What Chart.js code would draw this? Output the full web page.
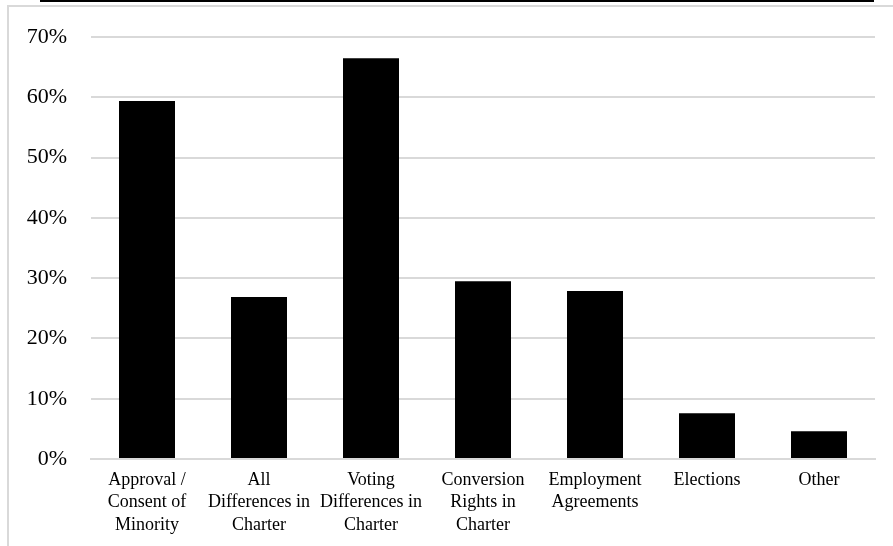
<!DOCTYPE html>
<html>
<head>
<meta charset="utf-8">
<script src="https://cdn.jsdelivr.net/npm/chart.js@4"></script>
<style>
  html, body { margin: 0; padding: 0; background: #fff; }
  body { width: 893px; height: 546px; position: relative; overflow: hidden; }
  .topband { position: absolute; left: 40px; top: 0; width: 834px; height: 2px; background: #000; }
  .frame { position: absolute; left: 7px; top: 5px; width: 900px; height: 560px;
           border-top: 2px solid #d9d9d9; border-left: 2px solid #d9d9d9; }
  #chartWrap { position: absolute; left: 0; top: 0; width: 893px; height: 546px; }
</style>
</head>
<body>
<div class="topband"></div>
<div class="frame"></div>
<div id="chartWrap"><canvas id="barChart" width="893" height="546"></canvas></div>
<script>
const categories = [
  ["Approval /", "Consent of", "Minority"],
  ["All", "Differences in", "Charter"],
  ["Voting", "Differences in", "Charter"],
  ["Conversion", "Rights in", "Charter"],
  ["Employment", "Agreements"],
  "Elections",
  "Other"
];
const shares = [59.4, 26.9, 66.5, 29.5, 27.9, 7.6, 4.6];
const yMax = 70;
const yStep = 10;

const ctx = document.getElementById("barChart").getContext("2d");

new Chart(ctx, {
  type: "bar",
  data: {
    labels: categories,
    datasets: [{
      data: shares,
      backgroundColor: "#000000",
      borderWidth: 0,
      barPercentage: 0.5,
      categoryPercentage: 1.0
    }]
  },
  options: {
    responsive: false,
    animation: false,
    devicePixelRatio: 1,
    layout: { padding: { top: 35, right: 18, left: 0, bottom: 0 } },
    plugins: {
      legend: { display: false },
      tooltip: { enabled: false }
    },
    scales: {
      x: {
        grid: { display: false, drawTicks: false },
        border: { display: true, color: "#d9d9d9", width: 2 },
        ticks: {
          color: "#000",
          padding: 10,
          maxRotation: 0,
          autoSkip: false,
          font: { family: "'Liberation Serif', 'Times New Roman', serif", size: 18, lineHeight: 1.25 }
        },
        afterFit: scale => { scale.height = 87; }
      },
      y: {
        min: 0,
        max: yMax,
        grid: { color: "#d9d9d9", lineWidth: 2, drawTicks: false },
        border: { display: false },
        ticks: {
          stepSize: yStep,
          color: "#000",
          padding: 24,
          font: { family: "'Liberation Serif', 'Times New Roman', serif", size: 22 },
          callback: v => v + "%"
        },
        afterFit: scale => { scale.width = 91; }
      }
    }
  }
});
</script>
</body>
</html>
